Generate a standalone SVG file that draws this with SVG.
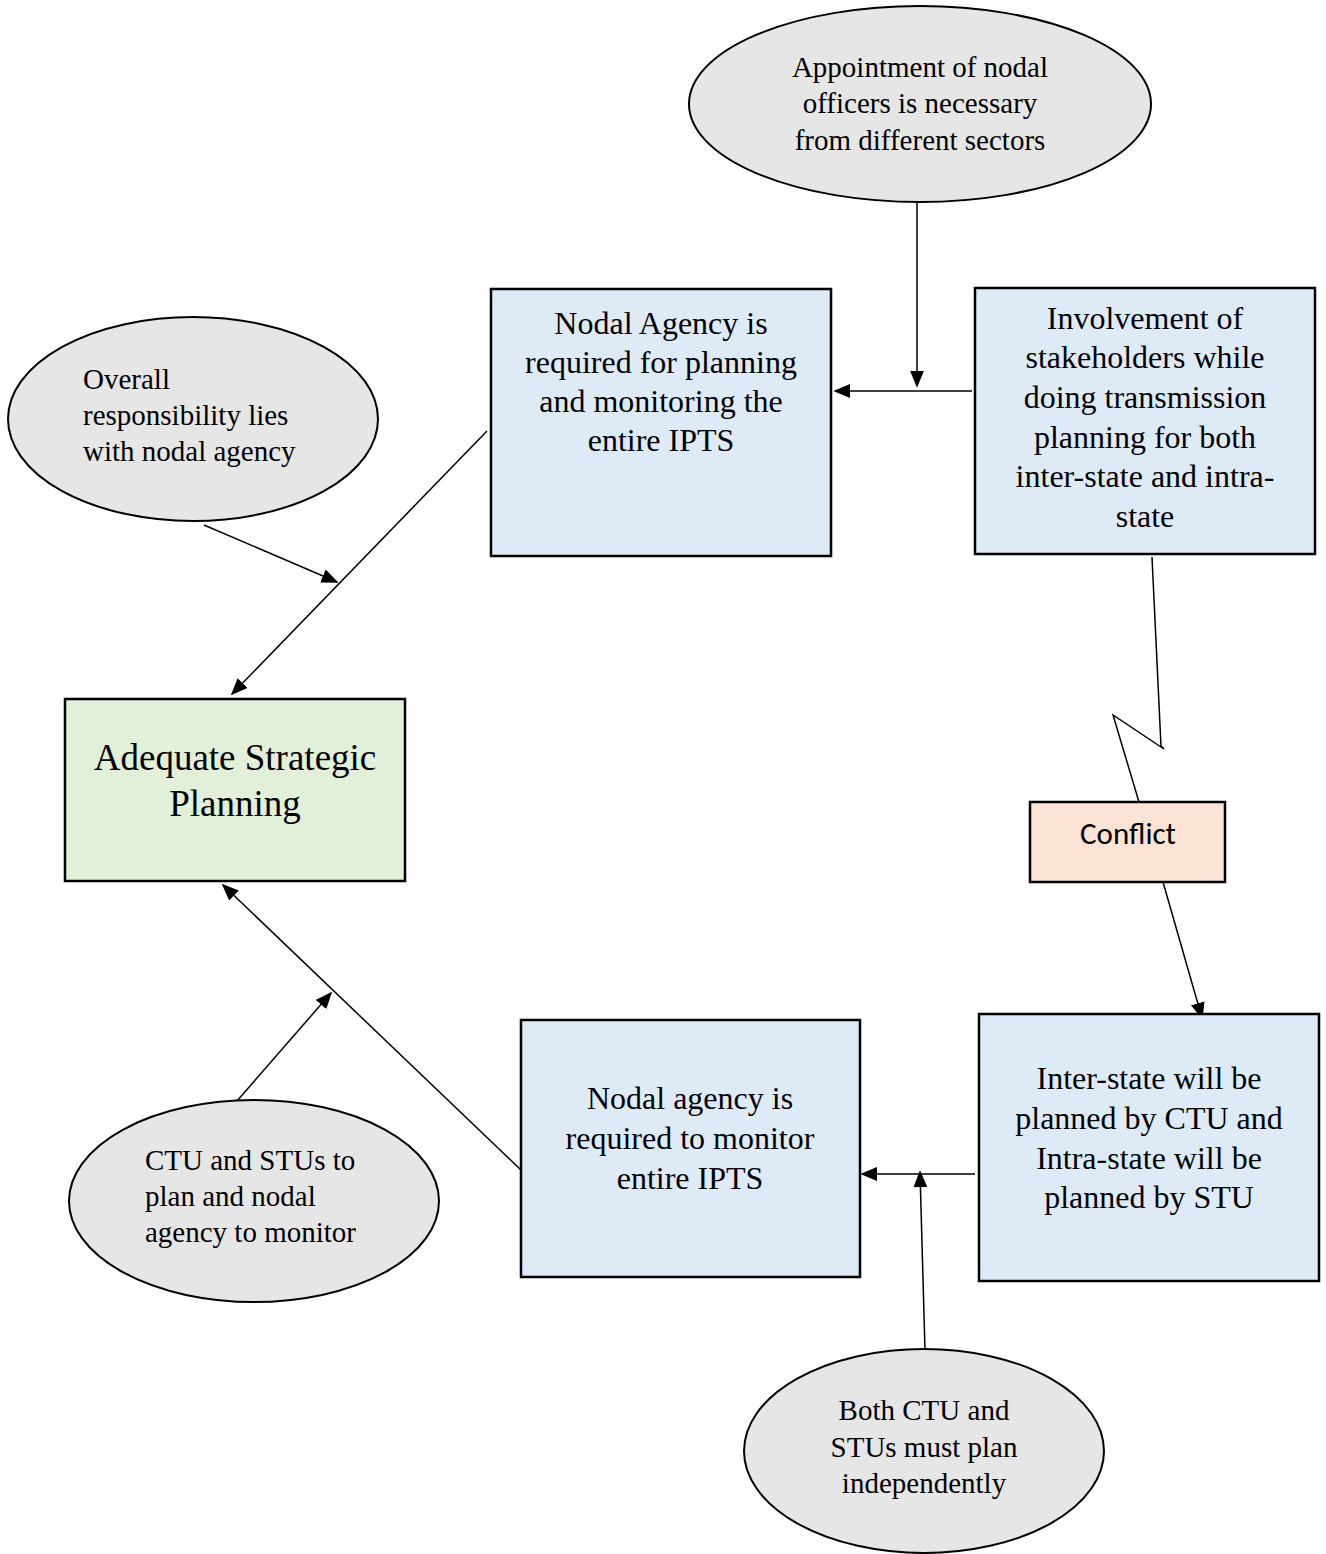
<svg xmlns="http://www.w3.org/2000/svg" width="1326" height="1554" viewBox="0 0 1326 1554">
<style>
.ell{fill:#e7e6e6;stroke:#000;stroke-width:2}
.box{fill:#deebf7;stroke:#000;stroke-width:2.5}
.t{font-family:"Liberation Serif","Times New Roman",serif;font-size:29px;fill:#000}
.tb{font-family:"Liberation Serif","Times New Roman",serif;font-size:32px;fill:#000}
.c{text-anchor:middle}
.ln{stroke:#000;stroke-width:1.5;fill:none}
</style>
<defs>
<marker id="ah" viewBox="0 0 10 10" refX="9" refY="5" markerWidth="17" markerHeight="14" markerUnits="userSpaceOnUse" orient="auto" preserveAspectRatio="none"><path d="M0,0 L10,5 L0,10 z" fill="#000"/></marker>
</defs>
<rect width="1326" height="1554" fill="#fff"/>
<g id="connectors">
<line class="ln" x1="917" y1="202" x2="917" y2="386" marker-end="url(#ah)"/>
<line class="ln" x1="972" y1="391" x2="835" y2="391" marker-end="url(#ah)"/>
<line class="ln" x1="204" y1="525" x2="337" y2="582" marker-end="url(#ah)"/>
<line class="ln" x1="487" y1="431" x2="232" y2="694" marker-end="url(#ah)"/>
<polyline class="ln" points="1152,557 1161,746 1164,749 1113,715 1139,802"/>
<line class="ln" x1="1163" y1="882" x2="1202" y2="1018" marker-end="url(#ah)"/>
<line class="ln" x1="975" y1="1174" x2="862" y2="1174" marker-end="url(#ah)"/>
<line class="ln" x1="925" y1="1350" x2="920" y2="1172" marker-end="url(#ah)"/>
<line class="ln" x1="521" y1="1170" x2="223" y2="885" marker-end="url(#ah)"/>
<line class="ln" x1="237" y1="1101" x2="331" y2="993" marker-end="url(#ah)"/>
</g>
<g id="appointment">
<ellipse class="ell" cx="920" cy="104" rx="231" ry="98"/>
<text class="t c" x="920" y="77">Appointment of nodal</text>
<text class="t c" x="920" y="113">officers is necessary</text>
<text class="t c" x="920" y="150">from different sectors</text>
</g>
<g id="overall">
<ellipse class="ell" cx="193" cy="419" rx="185" ry="102"/>
<text class="t" x="83" y="389">Overall</text>
<text class="t" x="83" y="425">responsibility lies</text>
<text class="t" x="83" y="461">with nodal agency</text>
</g>
<g id="nodal-planning">
<rect class="box" x="491" y="289" width="340" height="267"/>
<text class="tb c" x="661" y="334">Nodal Agency is</text>
<text class="tb c" x="661" y="373">required for planning</text>
<text class="tb c" x="661" y="412">and monitoring the</text>
<text class="tb c" x="661" y="451">entire IPTS</text>
</g>
<g id="involvement">
<rect class="box" x="975" y="288" width="340" height="266"/>
<text class="tb c" x="1145" y="329">Involvement of</text>
<text class="tb c" x="1145" y="368">stakeholders while</text>
<text class="tb c" x="1145" y="408">doing transmission</text>
<text class="tb c" x="1145" y="448">planning for both</text>
<text class="tb c" x="1145" y="487">inter-state and intra-</text>
<text class="tb c" x="1145" y="527">state</text>
</g>
<g id="adequate">
<rect x="65" y="699" width="340" height="182" fill="#e2efd9" stroke="#000" stroke-width="2.5"/>
<text class="c" x="235" y="770" font-family="Liberation Serif,Times New Roman,serif" font-size="37">Adequate Strategic</text>
<text class="c" x="235" y="816" font-family="Liberation Serif,Times New Roman,serif" font-size="37">Planning</text>
</g>
<g id="conflict">
<rect x="1030" y="802" width="195" height="80" fill="#fbe4d5" stroke="#000" stroke-width="2.5"/>
<text class="c" x="1128" y="844" font-family="Carlito,Open Sans,Liberation Sans,sans-serif" font-size="31">Conflict</text>
</g>
<g id="inter-state">
<rect class="box" x="979" y="1014" width="340" height="267"/>
<text class="tb c" x="1149" y="1089">Inter-state will be</text>
<text class="tb c" x="1149" y="1129">planned by CTU and</text>
<text class="tb c" x="1149" y="1169">Intra-state will be</text>
<text class="tb c" x="1149" y="1208">planned by STU</text>
</g>
<g id="nodal-monitor">
<rect class="box" x="521" y="1020" width="339" height="257"/>
<text class="tb c" x="690" y="1109">Nodal agency is</text>
<text class="tb c" x="690" y="1149">required to monitor</text>
<text class="tb c" x="690" y="1189">entire IPTS</text>
</g>
<g id="ctu-stus">
<ellipse class="ell" cx="254" cy="1201" rx="185" ry="101"/>
<text class="t" x="145" y="1170">CTU and STUs to</text>
<text class="t" x="145" y="1206">plan and nodal</text>
<text class="t" x="145" y="1242">agency to monitor</text>
</g>
<g id="both">
<ellipse class="ell" cx="924" cy="1451" rx="180" ry="102"/>
<text class="t c" x="924" y="1420">Both CTU and</text>
<text class="t c" x="924" y="1457">STUs must plan</text>
<text class="t c" x="924" y="1493">independently</text>
</g>
</svg>
